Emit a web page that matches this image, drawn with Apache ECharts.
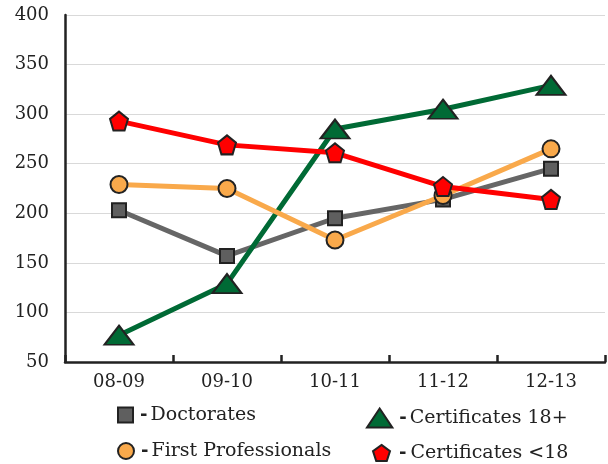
<!DOCTYPE html>
<html><head><meta charset="utf-8">
<script src="https://cdn.jsdelivr.net/npm/echarts@6/dist/echarts.min.js"></script>
<style>html,body{margin:0;padding:0;background:#fff}#c{width:608px;height:464px}</style>
</head><body><div id="c"></div>
<script>
var categories = ['08-09','09-10','10-11','11-12','12-13'];
var doctorates = [203, 157, 195, 214, 245];
var cert18plus = [77, 129, 285, 305, 329];
var firstProf = [229, 225, 173, 218, 265];
var certUnder18 = [293, 269, 261, 227, 214];
var yTicks = [50, 100, 150, 200, 250, 300, 350, 400];

var FONT = 'DejaVu Serif';
var pent = 'path://M0,-10 L9.5,-3.1 L5.9,8.1 L-5.9,8.1 L-9.5,-3.1 Z';
var tri = 'path://M0,-10 L12,8 L-12,8 Z';

function leg(name, icon, left, top, w, h, color, padL, padR) {
  return {
    data: [{name: name, icon: icon, itemStyle: {color: color, borderColor: '#222', borderWidth: 2}}],
    left: left, top: top, itemWidth: w, itemHeight: h, itemGap: 0, padding: 0,
    selectedMode: false,
    textStyle: {fontFamily: FONT, fontSize: 19, color: '#222', lineHeight: 22,
      rich: {d: {fontFamily: 'DejaVu Sans', fontWeight: 'bold', fontSize: 18, color: '#222', lineHeight: 22, padding: [0, padR, 0, padL]},
             t: {fontFamily: FONT, fontSize: 19, color: '#222', lineHeight: 22}}},
    formatter: function (n) { return '{d|-}{t|' + n + '}'; }
  };
}

var chart = echarts.init(document.getElementById('c'));
chart.setOption({
  animation: false,
  grid: {left: 65, right: 3, top: 15, bottom: 102},
  legend: [
    leg('Doctorates', 'rect', 117, 404, 15, 15, '#5f5f5f', 2, 3),
    leg('Certificates 18+', tri, 366, 407, 29, 19, '#006a35', 0, 3),
    leg('First Professionals', 'circle', 117, 440, 16, 16, '#f9a94b', 2, 3),
    leg('Certificates <18', pent, 372, 442, 17, 20, '#ff0000', 4, 4)
  ],
  xAxis: {
    type: 'category', data: categories,
    axisLine: {lineStyle: {color: '#222', width: 2.5}},
    axisTick: {show: true, inside: true, length: 7, lineStyle: {color: '#222', width: 2.5}},
    axisLabel: {fontFamily: FONT, fontSize: 18, color: '#222', margin: 11}
  },
  yAxis: {
    type: 'value', min: 50, max: 400, interval: 50,
    axisLine: {show: true, lineStyle: {color: '#222', width: 2.5}},
    axisTick: {show: false},
    axisLabel: {fontFamily: FONT, fontSize: 18, color: '#222', margin: 16,
      formatter: function (v) { return yTicks.indexOf(v) >= 0 ? String(v) : ''; }},
    splitLine: {lineStyle: {color: '#d9d9d9', width: 1.2}}
  },
  series: [
    {name: 'Doctorates', type: 'line', data: doctorates, symbol: 'rect', symbolSize: 14,
     lineStyle: {color: '#666666', width: 5}, z: 2,
     itemStyle: {color: '#5f5f5f', borderColor: '#222', borderWidth: 2}},
    {name: 'Certificates 18+', type: 'line', data: cert18plus, symbol: tri, symbolSize: [29, 19],
     lineStyle: {color: '#006a35', width: 5}, z: 3,
     itemStyle: {color: '#006a35', borderColor: '#222', borderWidth: 2}},
    {name: 'First Professionals', type: 'line', data: firstProf, symbol: 'circle', symbolSize: 17,
     lineStyle: {color: '#f9a94b', width: 5}, z: 4,
     itemStyle: {color: '#f9a94b', borderColor: '#222', borderWidth: 2}},
    {name: 'Certificates <18', type: 'line', data: certUnder18, symbol: pent, symbolSize: [18, 19],
     lineStyle: {color: '#ff0000', width: 5}, z: 5,
     itemStyle: {color: '#ff0000', borderColor: '#222', borderWidth: 2}}
  ]
});
</script></body></html>
